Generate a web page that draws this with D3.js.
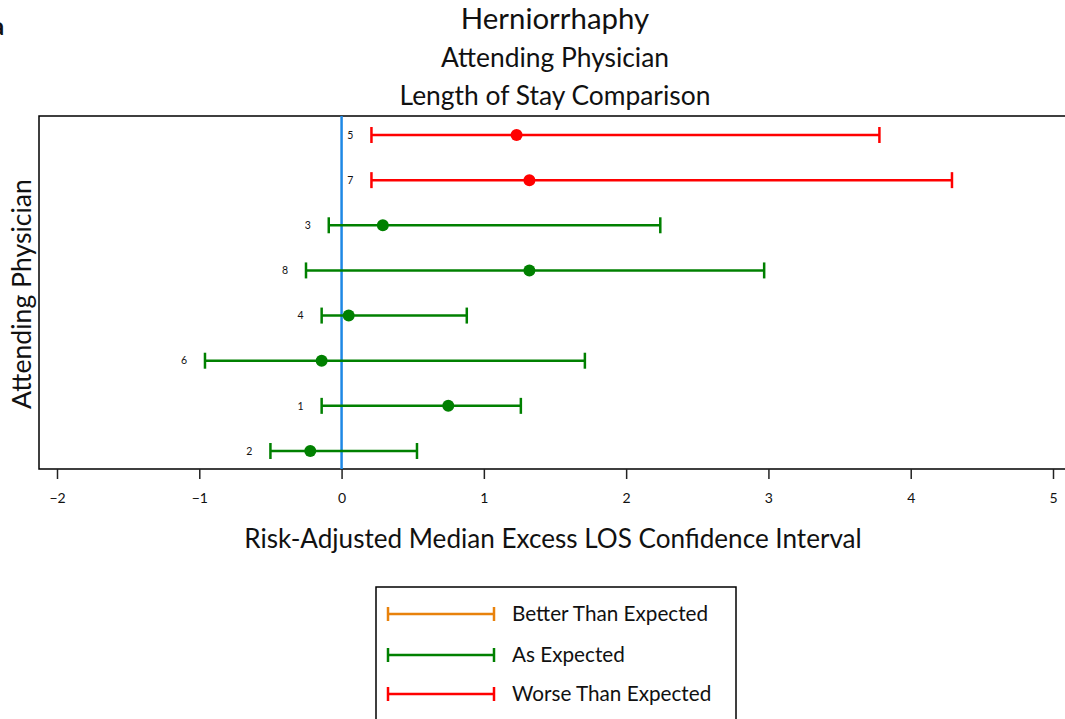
<!DOCTYPE html>
<html><head><meta charset="utf-8">
<script src="https://cdn.jsdelivr.net/npm/d3@7"></script>
<style>body{margin:0;background:#fff}svg{display:block}text{font-family:Lato,"Open Sans",sans-serif;fill:#111}</style>
</head><body><svg id="c" width="1065" height="719"></svg>
<script>
const physicians = ["5","7","3","8","4","6","1","2"];
const lower = [0.21,0.21,-0.09,-0.25,-0.14,-0.96,-0.14,-0.50];
const median = [1.23,1.32,0.29,1.32,0.05,-0.14,0.75,-0.22];
const upper = [3.78,4.29,2.24,2.97,0.88,1.71,1.26,0.53];
const status = ["Worse","Worse","As","As","As","As","As","As"];
const xTicks = [-2,-1,0,1,2,3,4,5];
const legendItems = ["Better Than Expected","As Expected","Worse Than Expected"];
const legendKeys = ["Better","As","Worse"];
const titles = ["Herniorrhaphy","Attending Physician","Length of Stay Comparison"];

const colors = {Better:"#E8820C", As:"#008000", Worse:"#FF0000"};
const svg = d3.select("#c");
const x = d3.scaleLinear().domain([-2,5]).range([57,1053]);
const y = d3.scalePoint().domain(physicians).range([135,451]);

// panel letter (clipped at the left edge, as in the reference)
svg.append("text").attr("x",-8).attr("y",35).attr("font-size",24).attr("font-weight","bold").attr("fill","#000").text("a");

// titles
const ty=[29,67,105], ts=[29.4,26.4,26.4];
titles.forEach((t,i)=>svg.append("text").attr("x",555).attr("y",ty[i]).attr("text-anchor","middle").attr("font-size",ts[i]).text(t));

// frame
svg.append("path").attr("d",`M1065,116H39V469H1065`).attr("fill","none").attr("stroke","#000").attr("stroke-width",1.5);

// x axis
const ax = svg.append("g").attr("transform","translate(0,469)").call(d3.axisBottom(x).tickValues(xTicks).tickSize(10).tickFormat(d3.format("d")));
ax.select(".domain").remove();
ax.selectAll("line").attr("stroke","#222").attr("stroke-width",1.5);
ax.selectAll("text").attr("font-size",14).attr("dy","1.5em").attr("font-family","Lato,sans-serif").attr("fill","#111");

// zero line
svg.append("line").attr("x1",x(0)).attr("x2",x(0)).attr("y1",116).attr("y2",469).attr("stroke","#1E88E5").attr("stroke-width",2.5);

// error bars
const g = svg.append("g");
physicians.forEach((p,i)=>{
  const c = colors[status[i]], yy=y(p);
  g.append("line").attr("x1",x(lower[i])).attr("x2",x(upper[i])).attr("y1",yy).attr("y2",yy).attr("stroke",c).attr("stroke-width",2.5);
  [lower[i],upper[i]].forEach(v=>g.append("line").attr("x1",x(v)).attr("x2",x(v)).attr("y1",yy-8).attr("y2",yy+8).attr("stroke",c).attr("stroke-width",2.5));
  g.append("circle").attr("cx",x(median[i])).attr("cy",yy).attr("r",6).attr("fill",c);
  g.append("text").attr("x",x(lower[i])-18).attr("y",yy).attr("dy","0.35em").attr("text-anchor","end").attr("font-size",10.5).attr("fill","#222").text(p);
});

// axis titles
svg.append("text").attr("x",553).attr("y",548).attr("text-anchor","middle").attr("font-size",26.1).text("Risk-Adjusted Median Excess LOS Confidence Interval");
svg.append("text").attr("transform","translate(31,294) rotate(-90)").attr("text-anchor","middle").attr("font-size",26.6).text("Attending Physician");

// legend
svg.append("rect").attr("x",376).attr("y",587).attr("width",360).attr("height",140).attr("fill","#fff").attr("stroke","#000").attr("stroke-width",1.5);
const ly=[614,655,694];
legendKeys.forEach((k,i)=>{
  const c=colors[k];
  svg.append("line").attr("x1",388).attr("x2",494).attr("y1",ly[i]).attr("y2",ly[i]).attr("stroke",c).attr("stroke-width",2.5);
  [388,494].forEach(xx=>svg.append("line").attr("x1",xx).attr("x2",xx).attr("y1",ly[i]-7).attr("y2",ly[i]+7).attr("stroke",c).attr("stroke-width",2.5));
  svg.append("text").attr("x",512).attr("y",ly[i]).attr("dy","0.35em").attr("font-size",20.7).text(legendItems[i]);
});
</script></body></html>
